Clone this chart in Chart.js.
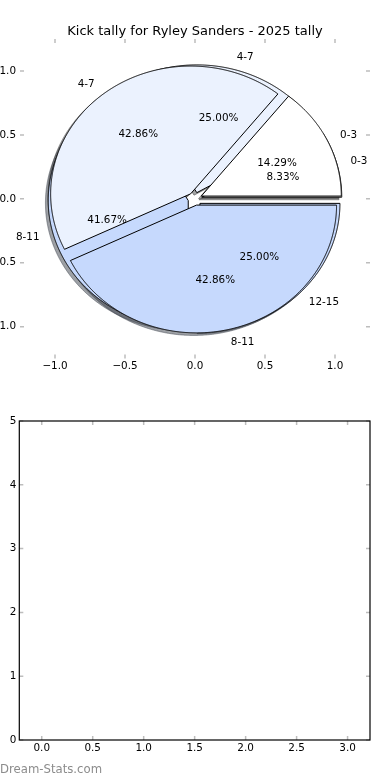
<!DOCTYPE html>
<html>
<head>
<meta charset="utf-8">
<script src="https://cdn.jsdelivr.net/npm/chart.js@4.4.0/dist/chart.umd.min.js"></script>
<style>
  html, body { margin: 0; padding: 0; background: #fff; }
  body { width: 390px; height: 780px; position: relative; overflow: hidden; }
  #pieBox { position: absolute; left: -20px; top: 0; width: 410px; height: 390px; }
  #barBox { position: absolute; left: 0; top: 390px; width: 390px; height: 390px; }
  #mark { position: absolute; left: 0; top: 762px; font: 11.7px "DejaVu Sans"; line-height: 14px; color: #8c8c8c; }
</style>
</head>
<body>
<div id="pieBox"><canvas id="pieChart"></canvas></div>
<div id="barBox"><canvas id="barChart"></canvas></div>
<div id="mark">Dream-Stats.com</div>
<script>
// chart values
const titleText = 'Kick tally for Ryley Sanders - 2025 tally';
const pieLabelsA = ['0-3', '4-7', '8-11'];
const pieValuesA = [1, 3, 3];
const pieLabelsB = ['0-3', '4-7', '8-11', '12-15'];
const pieValuesB = [1, 3, 5, 3];
const pieTicks = [-1.0, -0.5, 0.0, 0.5, 1.0];
const barXTicks = [0, 0.5, 1, 1.5, 2, 2.5, 3];
const barYTicks = [0, 1, 2, 3, 4, 5];
const barValues = []; // lower panel is empty

// styles
const pieColorsA = ['#ffffff', '#ebf2fe', '#c6d9fd'];
const pieColorsB = ['#ffffff', '#ebf2fe', '#c6d9fd', '#c6d9fd'];
const explode = 0.05;
const tickFont = { family: '"DejaVu Sans"', size: 10.4 };

Chart.defaults.font.family = '"DejaVu Sans"';
Chart.defaults.color = '#000';

function hexToRgb(h) {
  const n = parseInt(h.slice(1), 16);
  return [(n >> 16) & 255, (n >> 8) & 255, n & 255];
}

function fmt1(v) {
  return (v < 0 ? '\u2212' : '') + Math.abs(v).toFixed(1);
}

// grey inward tick marks on all four sides, plus optional black frame
const inwardTicks = {
  id: 'inwardTicks',
  afterDraw(chart, args, opts) {
    const { ctx, chartArea: a, scales } = chart;
    ctx.save();
    ctx.strokeStyle = '#bdbdbd';
    ctx.lineWidth = 1.5;
    ctx.beginPath();
    scales.x.ticks.forEach(t => {
      const x = scales.x.getPixelForValue(t.value);
      ctx.moveTo(x, a.top); ctx.lineTo(x, a.top + 4);
      ctx.moveTo(x, a.bottom); ctx.lineTo(x, a.bottom - 4);
    });
    scales.y.ticks.forEach(t => {
      const y = scales.y.getPixelForValue(t.value);
      ctx.moveTo(a.left, y); ctx.lineTo(a.left + 4, y);
      ctx.moveTo(a.right, y); ctx.lineTo(a.right - 4, y);
    });
    ctx.stroke();
    if (opts.frame) {
      ctx.strokeStyle = '#000';
      ctx.lineWidth = 1.2;
      ctx.strokeRect(a.left, a.top, a.right - a.left, a.bottom - a.top);
    }
    ctx.restore();
  }
};

// two overlapping exploded pies drawn through the x/y scales
const piePlugin = {
  id: 'pies',
  afterDatasetsDraw(chart) {
    const ctx = chart.ctx;
    const xs = chart.scales.x, ys = chart.scales.y;
    const px = v => xs.getPixelForValue(v);
    const py = v => ys.getPixelForValue(v);
    const pies = [
      { values: pieValuesB, labels: pieLabelsB, colors: pieColorsB },
      { values: pieValuesA, labels: pieLabelsA, colors: pieColorsA }
    ];
    const wedges = [];
    pies.forEach(p => {
      const total = p.values.reduce((s, v) => s + v, 0);
      let t = 0;
      p.values.forEach((v, i) => {
        const t1 = t, t2 = t + 360 * v / total;
        t = t2;
        const mid = (t1 + t2) / 2 * Math.PI / 180;
        wedges.push({
          t1, t2, mid,
          cx: explode * Math.cos(mid), cy: explode * Math.sin(mid),
          color: p.colors[i], label: p.labels[i], pct: 100 * v / total
        });
      });
    });

    function path(w, dx, dy) {
      ctx.beginPath();
      ctx.moveTo(px(w.cx + dx), py(w.cy + dy));
      const steps = Math.ceil((w.t2 - w.t1) * 4);
      for (let k = 0; k <= steps; k++) {
        const a = (w.t1 + (w.t2 - w.t1) * k / steps) * Math.PI / 180;
        ctx.lineTo(px(w.cx + dx + Math.cos(a)), py(w.cy + dy + Math.sin(a)));
      }
      ctx.closePath();
    }

    ctx.save();
    // shadows
    wedges.forEach(w => {
      const rgb = hexToRgb(w.color).map(c => Math.round(c * 0.3)).join(',');
      path(w, -0.02, -0.02);
      ctx.fillStyle = 'rgba(' + rgb + ',0.5)';
      ctx.strokeStyle = 'rgba(' + rgb + ',0.5)';
      ctx.lineWidth = 1;
      ctx.fill();
      ctx.stroke();
    });
    // wedges
    wedges.forEach(w => {
      path(w, 0, 0);
      ctx.fillStyle = w.color;
      ctx.strokeStyle = '#000';
      ctx.lineWidth = 1;
      ctx.fill();
      ctx.stroke();
    });
    // labels and percentages
    ctx.fillStyle = '#000';
    ctx.font = '10.4px "DejaVu Sans"';
    ctx.textBaseline = 'middle';
    wedges.forEach(w => {
      const c = Math.cos(w.mid), s = Math.sin(w.mid);
      const lx = w.cx + 1.1 * c, ly = w.cy + 1.1 * s;
      ctx.textAlign = lx > 0 ? 'left' : 'right';
      ctx.fillText(w.label, px(lx), py(ly));
      ctx.textAlign = 'center';
      ctx.fillText(w.pct.toFixed(2) + '%', px(w.cx + 0.6 * c), py(w.cy + 0.6 * s));
    });
    ctx.restore();
  }
};

new Chart(document.getElementById('pieChart'), {
  type: 'scatter',
  data: { datasets: [{ data: [] }] },
  plugins: [piePlugin, inwardTicks],
  options: {
    responsive: true,
    maintainAspectRatio: false,
    animation: false,
    layout: { padding: { top: 0, right: 20, bottom: 9.4, left: 0 } },
    plugins: {
      legend: { display: false },
      tooltip: { enabled: false },
      title: {
        display: true, text: titleText, fullSize: false, color: '#000',
        font: { family: '"DejaVu Sans"', size: 13, weight: 'normal' },
        padding: { top: 23.5, bottom: 0 }
      },
      inwardTicks: { frame: false }
    },
    scales: {
      x: {
        type: 'linear', min: -1.25, max: 1.25,
        afterBuildTicks: s => { s.ticks = pieTicks.map(v => ({ value: v })); },
        afterFit: s => { s.height = 22; },
        grid: { display: false, drawTicks: false },
        border: { display: false },
        ticks: { callback: fmt1, font: tickFont, color: '#000', padding: 1, maxRotation: 0, autoSkip: false }
      },
      y: {
        type: 'linear', min: -1.25, max: 1.25,
        afterBuildTicks: s => { s.ticks = pieTicks.map(v => ({ value: v })); },
        afterFit: s => { s.width = 40; },
        grid: { display: false, drawTicks: false },
        border: { display: false },
        ticks: { callback: fmt1, font: tickFont, color: '#000', padding: 4, autoSkip: false }
      }
    }
  }
});

new Chart(document.getElementById('barChart'), {
  type: 'scatter',
  data: { datasets: [{ data: barValues }] },
  plugins: [inwardTicks],
  options: {
    responsive: true,
    maintainAspectRatio: false,
    animation: false,
    layout: { padding: { top: 31, right: 20, bottom: 20, left: 0 } },
    plugins: {
      legend: { display: false },
      tooltip: { enabled: false },
      inwardTicks: { frame: true }
    },
    scales: {
      x: {
        type: 'linear', min: -0.22, max: 3.22,
        afterBuildTicks: s => { s.ticks = barXTicks.map(v => ({ value: v })); },
        afterFit: s => { s.height = 20; },
        grid: { display: false, drawTicks: false },
        border: { display: false },
        ticks: { callback: v => v.toFixed(1), font: tickFont, color: '#000', padding: 2, maxRotation: 0, autoSkip: false }
      },
      y: {
        type: 'linear', min: 0, max: 5,
        afterBuildTicks: s => { s.ticks = barYTicks.map(v => ({ value: v })); },
        afterFit: s => { s.width = 19.3; },
        grid: { display: false, drawTicks: false },
        border: { display: false },
        ticks: { callback: v => String(v), font: tickFont, color: '#000', padding: 3, autoSkip: false }
      }
    }
  }
});
</script>
</body>
</html>
